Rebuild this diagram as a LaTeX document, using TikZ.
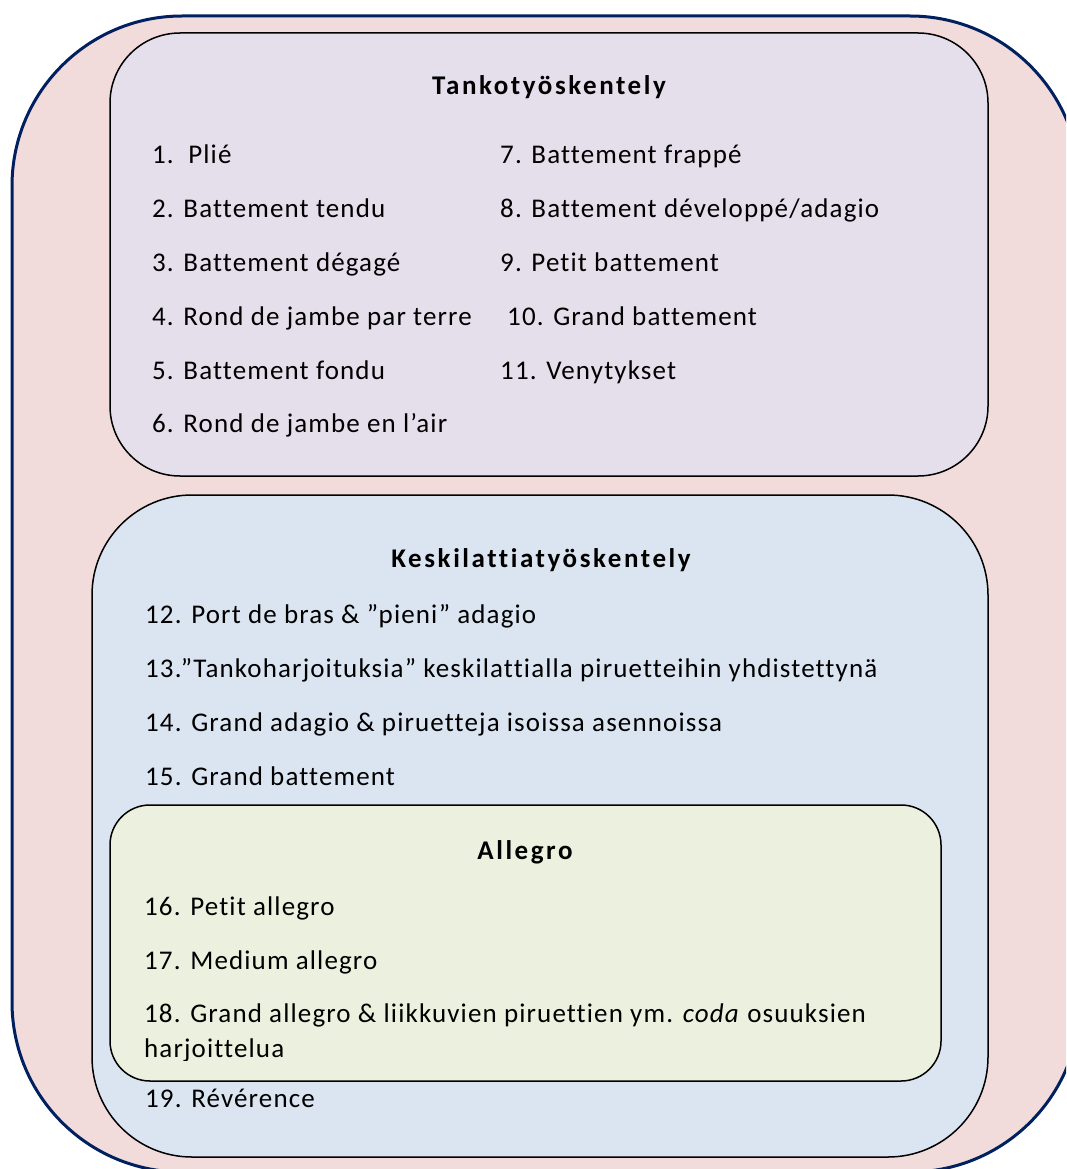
\documentclass[tikz,border=0pt]{standalone}
\usepackage{fontspec}
\setmainfont[Ligatures=NoCommon]{Carlito}
\newfontfamily\bodyfont[Ligatures=NoCommon,LetterSpace=4.2]{Carlito}
\newfontfamily\titlefont[Ligatures=NoCommon,LetterSpace=9.5]{Carlito}
\definecolor{outerfill}{HTML}{F2DCDB}
\definecolor{outerline}{HTML}{002060}
\definecolor{tankofill}{HTML}{E5DFEC}
\definecolor{keskifill}{HTML}{DBE5F1}
\definecolor{allegrofill}{HTML}{EBF1DE}
\begin{document}
\begin{tikzpicture}[x=1pt,y=-1pt,
  item/.style={anchor=base west,inner sep=0pt,font=\bodyfont\fontsize{27}{32}\selectfont},
  title/.style={anchor=base,inner sep=0pt,font=\titlefont\fontsize{27}{32}\selectfont\bfseries},
  panel/.style={draw=black,line width=1.5pt}]
\useasboundingbox (0,0) rectangle (1066,1169);
\clip (0,0) rectangle (1066,1169);
% outer frame
\draw[fill=outerfill,draw=outerline,line width=3pt,rounded corners=170] (12,16) rectangle (1080,1172);
% Tankotyoskentely
\draw[panel,fill=tankofill,rounded corners=70] (110,33) rectangle (988,476);
\node[title] (t0) at (549,95) {Tankotyöskentely};
\node[item] (t1) at (152,164) {1.\ \ Plié};
\node[item] (t2) at (152,218) {2. Battement tendu};
\node[item] (t3) at (152,271) {3. Battement dégagé};
\node[item] (t4) at (152,325) {4. Rond de jambe par terre};
\node[item] (t5) at (152,379) {5. Battement fondu};
\node[item] (t6) at (152,432) {6. Rond de jambe en l’air};
\node[item] (t7) at (500,164) {7. Battement frappé};
\node[item] (t8) at (500,218) {8. Battement développé/adagio};
\node[item] (t9) at (500,271) {9. Petit battement};
\node[item] (t10) at (507,325) {10. Grand battement};
\node[item] (t11) at (500,379) {11. Venytykset};
% Keskilattiatyoskentely
\draw[panel,fill=keskifill,rounded corners=100] (92,495) rectangle (988,1157);
\node[title] (k0) at (541,567) {Keskilattiatyöskentely};
\node[item] (k12) at (145,623) {12. Port de bras \& ”pieni” adagio};
\node[item] (k13) at (145,677) {13.”Tankoharjoituksia” keskilattialla piruetteihin yhdistettynä};
\node[item] (k14) at (145,731) {14. Grand adagio \& piruetteja isoissa asennoissa};
\node[item] (k15) at (145,785) {15. Grand battement};
% Allegro
\draw[panel,fill=allegrofill,rounded corners=40] (110,805) rectangle (941,1081);
\node[title] (a0) at (525,859) {Allegro};
\node[item] (a16) at (144,915) {16. Petit allegro};
\node[item] (a17) at (144,969) {17. Medium allegro};
\node[item] (a18) at (144,1022) {18. Grand allegro \& liikkuvien piruettien ym. \textit{coda} osuuksien};
\begin{scope}
\clip (100,1020) rectangle (950,1060);
\node[item] (a18b) at (144,1057) {harjoittelua};
\end{scope}
\node[item] (k19) at (145,1107) {19. Révérence};
\end{tikzpicture}
\end{document}
